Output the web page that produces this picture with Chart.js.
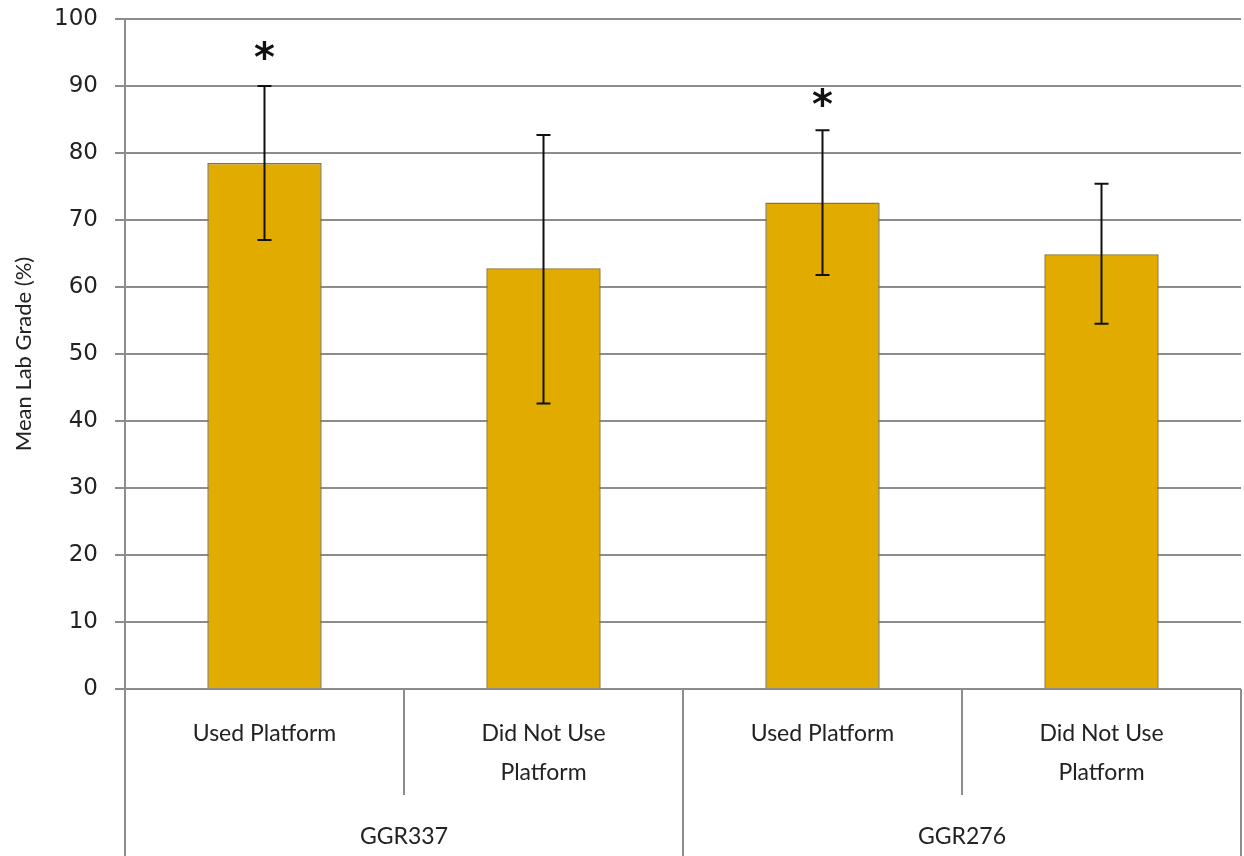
<!DOCTYPE html>
<html>
<head>
<meta charset="utf-8">
<script src="https://cdn.jsdelivr.net/npm/chart.js@4"></script>
<style>
  html, body { margin: 0; padding: 0; background: #fff; }
  #wrap { width: 1244px; height: 856px; }
</style>
</head>
<body>
<div id="wrap"><canvas id="chart"></canvas></div>
<script>
// values
var categories = [["Used Platform"], ["Did Not Use", "Platform"], ["Used Platform"], ["Did Not Use", "Platform"]];
var groups = ["GGR337", "GGR276"];
var meanGrade = [78.5, 62.8, 72.6, 64.9];
var errLow = [67.0, 42.6, 61.8, 54.5];
var errHigh = [90.0, 82.7, 83.4, 75.4];
var starAt = [95.3, null, 88.3, null];
var yTicks = [0, 10, 20, 30, 40, 50, 60, 70, 80, 90, 100];

var gridGrey = "#8c8c8c";
var labelFont = "Lato";

// error bars, asterisks and the category separators
var extras = {
  id: 'extras',
  afterDatasetsDraw: function(chart) {
    var ctx = chart.ctx;
    var x = chart.scales.x, y = chart.scales.y;
    ctx.save();
    ctx.strokeStyle = "#111";
    ctx.lineWidth = 2;
    for (var i = 0; i < meanGrade.length; ++i) {
      var cx = x.getPixelForValue(i);
      var top = y.getPixelForValue(errHigh[i]);
      var bot = y.getPixelForValue(errLow[i]);
      ctx.beginPath();
      ctx.moveTo(cx, top); ctx.lineTo(cx, bot);
      ctx.moveTo(cx - 7, top); ctx.lineTo(cx + 7, top);
      ctx.moveTo(cx - 7, bot); ctx.lineTo(cx + 7, bot);
      ctx.stroke();
      if (starAt[i] != null) {
        ctx.fillStyle = "#111";
        ctx.font = "bold 40px 'DejaVu Sans'";
        ctx.textAlign = "center";
        ctx.textBaseline = "alphabetic";
        var m = ctx.measureText("*");
        var mid = (m.actualBoundingBoxAscent - m.actualBoundingBoxDescent) / 2;
        ctx.fillText("*", cx, y.getPixelForValue(starAt[i]) + mid);
      }
    }
    ctx.restore();
  },
  afterDraw: function(chart) {
    var ctx = chart.ctx;
    var x = chart.scales.x, x2 = chart.scales.x2;
    var n = categories.length;
    var w = (x.right - x.left) / n;
    ctx.save();
    ctx.strokeStyle = gridGrey;
    ctx.lineWidth = 2;
    for (var i = 0; i <= n; ++i) {
      var px = x.left + i * w;
      var end = (i % 2 === 0) ? x2.bottom : x.bottom;
      ctx.beginPath();
      ctx.moveTo(px, x.top);
      ctx.lineTo(px, end);
      ctx.stroke();
    }
    ctx.restore();
  }
};

new Chart(document.getElementById('chart').getContext('2d'), {
  type: 'bar',
  data: {
    labels: categories,
    datasets: [{
      data: meanGrade,
      backgroundColor: "#E1AB00",
      borderColor: "#8a7434",
      borderWidth: 1.5,
      barPercentage: 0.41,
      categoryPercentage: 1.0
    }]
  },
  options: {
    responsive: true,
    maintainAspectRatio: false,
    animation: false,
    events: [],
    layout: { padding: { top: 19, right: 3, left: 0, bottom: 0 } },
    plugins: {
      legend: { display: false },
      tooltip: { enabled: false }
    },
    scales: {
      y: {
        min: 0,
        max: 100,
        afterBuildTicks: function(scale) {
          scale.ticks = yTicks.map(function(v) { return { value: v }; });
        },
        afterFit: function(scale) {
          scale.width = 125;
          scale.paddingTop = 0;
          scale.paddingBottom = 0;
        },
        ticks: {
          padding: 17,
          color: "#222",
          font: { family: "'DejaVu Sans'", size: 23 }
        },
        grid: { color: gridGrey, lineWidth: 2, tickLength: 10 },
        border: { color: gridGrey, width: 2 },
        title: {
          display: true,
          text: "Mean Lab Grade (%)",
          color: "#222",
          padding: { top: 11, bottom: 4 },
          font: { family: labelFont, size: 22 }
        }
      },
      x: {
        position: 'bottom',
        afterFit: function(scale) { scale.height = 106; },
        grid: { display: false },
        border: { display: false },
        ticks: {
          padding: 17,
          maxRotation: 0,
          autoSkip: false,
          color: "#222",
          font: { family: labelFont, size: 23, lineHeight: 1.7 }
        }
      },
      x2: {
        type: 'category',
        position: 'bottom',
        labels: groups,
        offset: true,
        afterFit: function(scale) { scale.height = 61; },
        grid: { display: false },
        border: { display: false },
        ticks: {
          padding: 20,
          maxRotation: 0,
          color: "#222",
          font: { family: labelFont, size: 23 }
        }
      }
    }
  },
  plugins: [extras]
});
</script>
</body>
</html>
